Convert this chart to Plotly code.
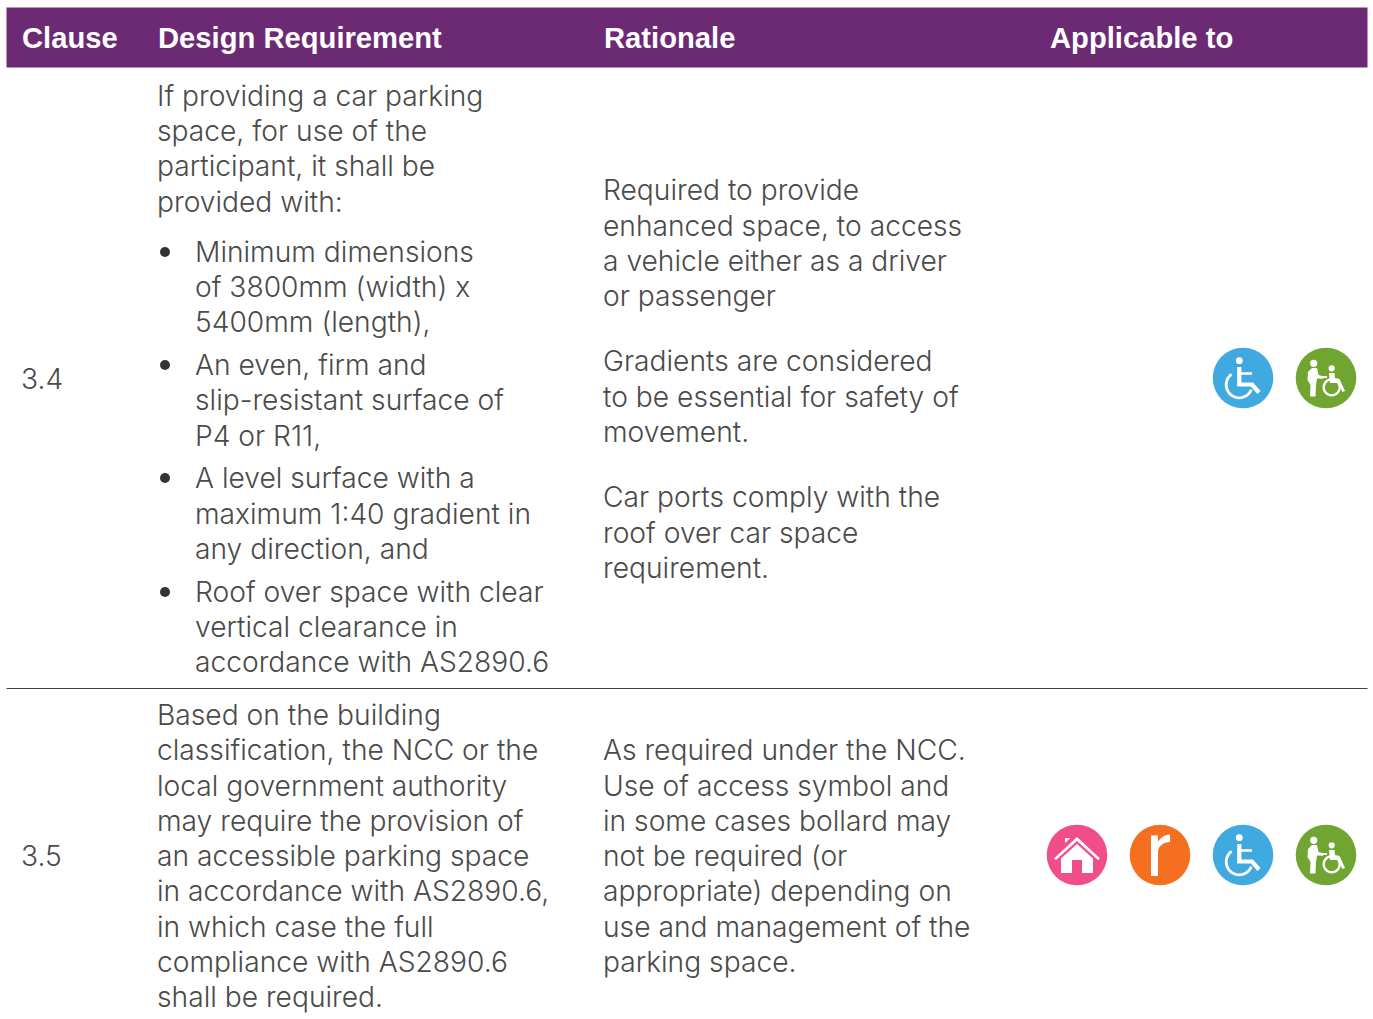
import math
import plotly.graph_objects as go

headers = ["Clause", "Design Requirement", "Rationale", "Applicable to"]
header_x = [20.5, 156.5, 602.5, 1048.5]
clauses = ["3.4", "3.5"]
clause_y = [378, 855]

req_lines = ["If providing a car parking", "space, for use of the", "participant, it shall be", "provided with:",
             "Based on the building", "classification, the NCC or the", "local government authority",
             "may require the provision of", "an accessible parking space", "in accordance with AS2890.6,",
             "in which case the full", "compliance with AS2890.6", "shall be required."]
req_y = [95, 130, 165, 201, 714, 749, 785, 820, 855, 890, 926, 961, 996]
bullet_lines = ["Minimum dimensions", "of 3800mm (width) x", "5400mm (length),",
                "An even, firm and", "slip-resistant surface of", "P4 or R11,",
                "A level surface with a", "maximum 1:40 gradient in", "any direction, and",
                "Roof over space with clear", "vertical clearance in", "accordance with AS2890.6"]
bullet_y = [251, 286, 321, 364, 399, 435, 477, 513, 548, 591, 626, 661]
rationale_lines = ["Required to provide", "enhanced space, to access", "a vehicle either as a driver", "or passenger",
                   "Gradients are considered", "to be essential for safety of", "movement.",
                   "Car ports comply with the", "roof over car space", "requirement.",
                   "As required under the NCC.", "Use of access symbol and", "in some cases bollard may",
                   "not be required (or", "appropriate) depending on", "use and management of the", "parking space."]
rationale_y = [189, 225, 260, 295, 360, 396, 431, 496, 532, 567, 749, 785, 820, 855, 890, 926, 961]

icon_rows = [(378, ["wheelchair", "assist"]), (855, ["home", "respite", "wheelchair", "assist"])]
icon_slots = {"home": 1077, "respite": 1160, "wheelchair": 1243, "assist": 1326}
icon_colors = {"home": "#f04d8a", "respite": "#f47020", "wheelchair": "#40a9e0", "assist": "#70a532"}

PURPLE = "#6c2a75"
TEXT = "#4a4a4a"
FONT = "Inter"
SIZE = 28.2
DY = 1

shapes, ann = [], []

def text(x, y, s, color=TEXT, size=SIZE, weight=300, family=FONT):
    ann.append(dict(x=x, y=y, text=s, xref="x", yref="y", xanchor="left", yanchor="middle", showarrow=False,
                    font=dict(family=family, size=size, color=color, weight=weight), borderpad=0))

def poly(cx, cy, pts):
    d = "M" + " L".join(f"{cx+a:.2f},{cy+b:.2f}" for a, b in pts) + " Z"
    shapes.append(dict(type="path", path=d, fillcolor="white", line=dict(width=0), xref="x", yref="y"))

def stroke(cx, cy, pts, w):
    d = "M" + " L".join(f"{cx+a:.2f},{cy+b:.2f}" for a, b in pts)
    shapes.append(dict(type="path", path=d, line=dict(color="white", width=w), fillcolor="rgba(0,0,0,0)", xref="x", yref="y"))

def disc(cx, cy, r, color="white"):
    shapes.append(dict(type="circle", x0=cx-r, x1=cx+r, y0=cy-r, y1=cy+r, fillcolor=color, line=dict(width=0), xref="x", yref="y"))

def arc(ax, ay, r, a0, a1, n=28):
    return [(ax + r*math.cos(math.radians(a0+(a1-a0)*i/n)), ay + r*math.sin(math.radians(a0+(a1-a0)*i/n))) for i in range(n+1)]

def icon(name, cx, cy):
    disc(cx, cy, 30.3, icon_colors[name])
    if name == "home":
        poly(cx, cy, [(0,-18),(23,3.5),(21,5),(0,-14),(-21,5),(-23,3.5)])
        poly(cx, cy, [(-12,-12),(-12,-17),(-6.5,-17)])
        poly(cx, cy, [(0,-11),(16,3.5),(16,18),(5,18),(5,5),(-5,5),(-5,18),(-16,18),(-16,3.5)])
    elif name == "respite":
        d = (f"M{cx-9},{cy+21} L{cx-9},{cy-19.5} L{cx-2},{cy-19.5} L{cx-2},{cy-13} "
             f"C{cx},{cy-17} {cx+5},{cy-20.5} {cx+10},{cy-20.5} L{cx+10},{cy-13} "
             f"C{cx+4},{cy-13} {cx-2},{cy-9} {cx-2},{cy-3} L{cx-2},{cy+21} Z")
        shapes.append(dict(type="path", path=d, fillcolor="white", line=dict(width=0), xref="x", yref="y"))
    elif name == "wheelchair":
        disc(cx-3.7, cy-17.3, 3.4)
        stroke(cx, cy, arc(-3.8, 6.8, 13, 234, 22), 2.8)
        stroke(cx, cy, [(-3.7,-11),(-3.7,6.5),(9,6.5),(16,14.5)], 4.2)
        stroke(cx, cy, [(-3.7,-4.5),(9,-4.5)], 2.6)
    else:
        disc(cx-12.3, cy-14.7, 3.6)
        poly(cx, cy, [(-14,-10),(-9,-10),(-7.5,-3),(-2,-1.5),(-3,0.8),(-9,0.5),(-10,7),(-10.5,18.5),(-16,18.5),(-15.5,7),(-18.5,2),(-18,-6)])
        disc(cx+5.7, cy-9.7, 3.1)
        stroke(cx, cy, [(-4,-1),(1,-1)], 2)
        stroke(cx, cy, arc(5.7, 9.3, 8, 0, 360), 2.4)
        poly(cx, cy, [(3,-5),(8.5,-5),(9,0),(13.5,1),(19,13),(16.5,14),(12,5),(4,5)])

shapes.append(dict(type="rect", x0=6.5, x1=1367.5, y0=7.5, y1=67.5, fillcolor=PURPLE, line=dict(width=0), xref="x", yref="y"))
shapes.append(dict(type="line", x0=6.5, x1=1367.5, y0=688.5, y1=688.5, line=dict(color="#444444", width=1), xref="x", yref="y"))

for x, h in zip(header_x, headers):
    text(x, 38, h, color="white", size=29.2, weight=700, family="Liberation Sans")
for s, y in zip(clauses, clause_y):
    text(19.5, y + DY, s)
for s, y in zip(req_lines, req_y):
    text(156, y + DY, s)
for s, y in zip(bullet_lines, bullet_y):
    text(194, y + DY, s)
for y in bullet_y[0::3]:
    disc(165, y + 1, 5, "#333333")
for s, y in zip(rationale_lines, rationale_y):
    text(602, y + DY, s)
for cy, names in icon_rows:
    for n in names:
        icon(n, icon_slots[n], cy)

fig = go.Figure()
fig.update_layout(width=1373, height=1019, margin=dict(l=0, r=0, t=0, b=0), paper_bgcolor="white", plot_bgcolor="white",
                  xaxis=dict(range=[0, 1373], visible=False, fixedrange=True),
                  yaxis=dict(range=[1019, 0], visible=False, fixedrange=True),
                  shapes=shapes, annotations=ann, showlegend=False)
fig.write_html("out.html", config={"displayModeBar": False}, post_script="document.body.style.margin='0';")
